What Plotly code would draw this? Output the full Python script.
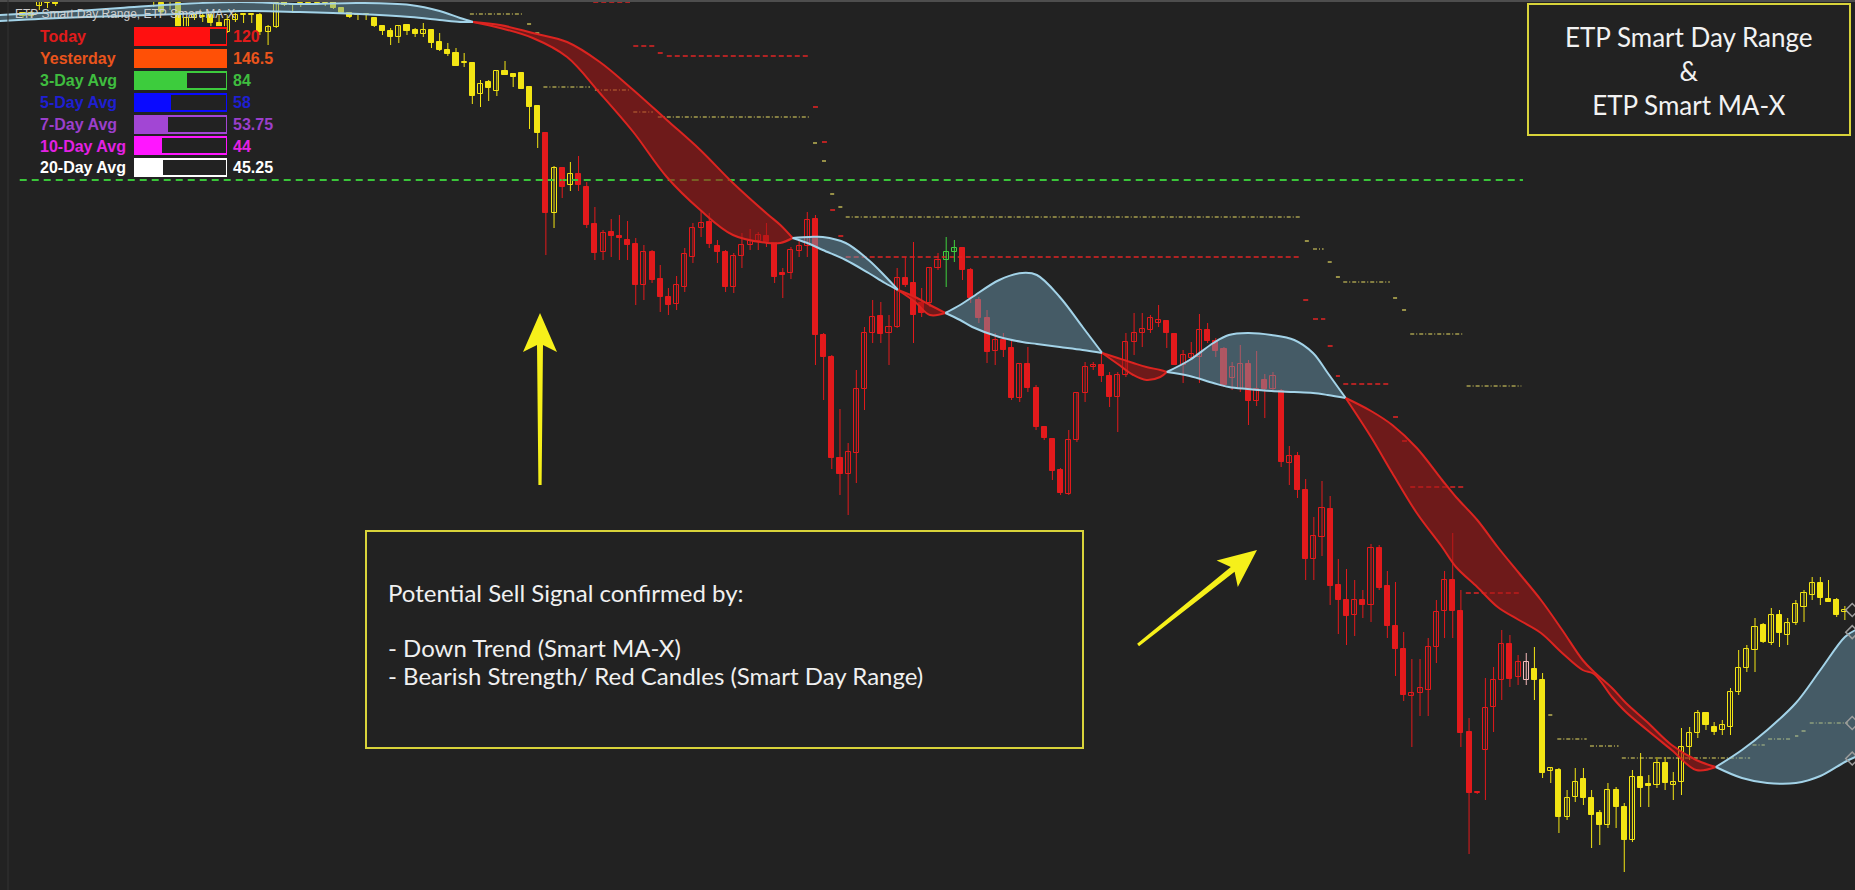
import plotly.graph_objects as go
import numpy as np

W, H = 1855, 890
BG = "#222222"

# ---------------- candle data (price units) ----------------
opens = [984, 987, 994, 997, 998, 999, None, None, None, None, None, None, None, None, None, None,
         998, 997, 1000, 997, 972, 982, 983, 985, 977, 968, 980, 985, 985, 985, 968, 973, 998, 995, 997, 997,
         997, 997, 998, 992, 987, 985, 985, 982, 974, 969, 963, 975, 970, 966, 970, 958, 950, 947, 937, 937,
         906, 918, 909, 929, 926, 927, 913, 894, 867, 787, 832, 815, 826, 813, 776, 748, 768, 764, 760, 756,
         715, 748, 721, 703, 696, 713, 743, 772, 778, 754, 748, 713, 744, 755, 759, 764, 757, 727, 727, 749,
         754, 781, 665, 643, 542, 526, 547, 611, 667, 684, 667, 673, 722, 717, 697, 697, 732, 740, 748, 752,
         730, 700, 682, 649, 660, 652, 602, 636, 612, 573, 561, 530, 506, 560, 607, 633, 635, 624, 603, 625,
         658, 667, 670, 677, 679, 666, 635, 642, 643, 670, 659, 651, 622, 611, 636, 599, 620, 611, 609, 537,
         544, 510, 441, 463, 491, 415, 400, 385, 400, 395, 452, 414, 374, 351, 304, 307, 310, 353, 389, 420,
         389, 268, 207, 250, 293, 320, 356, 323, 320, 331, 320, 229, 230, 183, 203, 221, 202, 187, 175, 210,
         193, 160, 223, 216, 215, 237, 215, 218, 253, 267, 287, 273, 270, 273, 308, 332, 350, 375, 357, 385,
         365, 377, 393, 405, 417, 401, 400, 388]
highs = [988, 989, 1003, 1005, 1000, 1008, None, None, None, None, None, None, None, None, None, None,
         1008, 1000, 1010, 1000, 983, 987, 987, 987, 985, 985, 987, 987, 985, 987, 975, 1000, 1000, 997, 998, 999,
         999, 998, 999, 993, 988, 987, 985, 983, 974, 972, 975, 976, 972, 977, 971, 967, 957, 952, 947, 938,
         920, 920, 930, 939, 927, 927, 914, 895, 867, 834, 832, 838, 844, 818, 793, 770, 781, 785, 779, 762,
         755, 750, 735, 712, 724, 752, 777, 790, 787, 760, 750, 747, 767, 771, 768, 777, 757, 732, 753, 760,
         788, 785, 667, 645, 591, 557, 630, 673, 700, 698, 685, 732, 743, 758, 712, 733, 747, 763, 760, 753,
         732, 703, 690, 667, 667, 660, 637, 653, 615, 573, 562, 532, 570, 608, 638, 638, 647, 628, 628, 667,
         687, 687, 685, 695, 680, 667, 650, 658, 686, 677, 662, 653, 638, 655, 640, 649, 626, 628, 611, 554,
         548, 521, 483, 519, 504, 441, 431, 420, 410, 456, 455, 429, 418, 368, 341, 341, 362, 400, 429, 467,
         410, 282, 208, 322, 333, 370, 365, 345, 347, 353, 327, 233, 232, 210, 232, 232, 210, 190, 217, 213,
         197, 230, 247, 225, 243, 243, 228, 272, 273, 290, 288, 278, 280, 312, 350, 355, 382, 377, 392, 390,
         382, 400, 410, 423, 423, 420, 402, 394]
lows = [982, 982, 990, 992, 994, 998, None, None, None, None, None, None, None, None, None, None,
        993, 986, 990, 972, 970, 980, 978, 973, 963, 967, 978, 977, 977, 965, 955, 972, 994, 987, 993, 995,
        995, 994, 991, 986, 982, 980, 980, 973, 965, 955, 957, 965, 963, 963, 952, 949, 944, 934, 933, 896,
        893, 899, 904, 925, 913, 911, 871, 852, 745, 772, 802, 809, 809, 772, 740, 740, 743, 740, 740, 695,
        700, 717, 688, 685, 690, 708, 737, 763, 752, 737, 708, 707, 732, 750, 750, 753, 717, 702, 721, 743,
        743, 635, 600, 531, 505, 485, 517, 590, 657, 657, 635, 672, 713, 657, 683, 693, 730, 713, 738, 720,
        697, 677, 637, 635, 643, 600, 598, 608, 570, 560, 520, 505, 505, 558, 598, 630, 618, 593, 568, 623,
        645, 653, 667, 673, 652, 635, 617, 640, 617, 657, 643, 613, 610, 608, 575, 594, 582, 608, 533, 515,
        502, 420, 420, 444, 395, 366, 355, 364, 382, 378, 410, 362, 324, 299, 253, 284, 284, 337, 362, 362,
        253, 146, 206, 200, 268, 300, 313, 315, 315, 300, 222, 217, 167, 180, 198, 195, 152, 155, 172, 172,
        128, 158, 193, 193, 212, 210, 200, 205, 240, 262, 270, 265, 265, 265, 305, 328, 328, 357, 355, 353,
        355, 375, 378, 400, 395, 398, 383, 380]
closes = [987, 984, 998, 1003, 996, 1005, None, None, None, None, None, None, None, None, None, None,
          1005, 988, 1008, 973, 982, 985, 983, 977, 967, 980, 985, 985, 985, 968, 973, 997, 995, 995, 997, 997,
          997, 997, 992, 987, 983, 985, 985, 974, 969, 963, 974, 969, 966, 970, 957, 950, 946, 934, 937, 904,
          916, 912, 929, 925, 923, 911, 893, 867, 787, 832, 813, 826, 815, 775, 747, 767, 764, 762, 755, 715,
          748, 720, 703, 695, 715, 746, 772, 777, 756, 748, 713, 744, 755, 759, 765, 758, 723, 725, 750, 754,
          780, 665, 643, 542, 526, 548, 611, 667, 683, 666, 673, 722, 715, 685, 687, 732, 740, 748, 752, 730,
          702, 682, 648, 660, 650, 602, 636, 612, 573, 562, 529, 507, 560, 607, 633, 635, 624, 603, 625, 658,
          667, 671, 682, 680, 667, 635, 645, 646, 670, 659, 649, 615, 633, 636, 599, 611, 611, 624, 538, 544,
          510, 441, 464, 492, 414, 400, 384, 400, 395, 452, 412, 374, 351, 305, 307, 312, 353, 388, 420, 389,
          267, 207, 208, 292, 320, 356, 321, 338, 338, 320, 227, 232, 183, 202, 218, 202, 185, 175, 210, 193,
          160, 223, 212, 214, 237, 217, 218, 253, 267, 287, 275, 268, 275, 308, 332, 351, 373, 358, 385, 367,
          377, 396, 407, 417, 402, 398, 385, 390]
# Smart Day Range colour state of each candle: Y = yellow, R = red, G = green, P = pink
strength = (["Y"] * 64 + ["R", "Y", "R", "Y"] + ["R"] * 45 + ["G", "G"] + ["R"] * 69
            + ["P"] + ["Y"] * 39)

# ---------------- Smart MA-X (fast / slow averages) ----------------
ma_bar = [-2.9, 4.5, 11.9, 19.2, 26.6, 33.9, 41.2, 47.4, 51.0, 53.5, 55.1,
          58.4, 62.4, 66.6, 70.6, 74.7, 78.8, 82.9, 86.9, 91.1, 92.7, 94.2,
          96.3, 97.9, 100.7, 103.5, 105.5, 107.1,
          109.2, 111.0, 112.9,
          114.7, 116.2, 119.5, 122.3, 124.1, 126.9, 129.7, 132.1,
          134.0, 135.9, 137.5, 139.2, 140.0,
          142.8, 145.7, 147.6, 149.9, 152.8, 155.6, 157.9, 159.7, 161.9,
          165.0, 167.6, 170.6, 173.7, 175.4, 178.0, 180.5, 183.1, 185.8, 188.4, 190.9, 192.3, 194.5,
          196.2, 198.8, 201.8, 204.8, 207.2,
          210.4, 213.5, 217.0, 220.0, 223.0, 224.3]
ma_fast = [985, 988, 992, 996, 998, 996, 997, 995, 989, 982, 978,
           972, 962, 943, 907, 868, 823, 790, 765, 757, 757, 762,
           763, 763, 757, 740, 724, 710,
           698, 685, 687,
           695, 703, 720, 727, 725, 703, 673, 647,
           636, 625, 620, 623, 628,
           640, 657, 665, 667, 665, 660, 647, 627, 602,
           563, 527, 487, 453, 433, 413, 393, 380, 367, 347, 330, 326, 303, 288, 270, 250, 230, 233,
           250, 270, 297, 330, 363, 370]
ma_slow = [979, 982, 984, 986, 989, 988, 986, 983, 980, 978, 978,
           975, 967, 958, 938, 910, 880, 850, 817, 786, 775, 762,
           756, 750, 740, 727, 717, 710,
           703, 695, 687,
           680, 673, 663, 658, 656, 653, 650, 647,
           642, 637, 633, 630, 628,
           624, 617, 613, 611, 609, 608, 607, 605, 602,
           589, 575, 552, 520, 503, 480, 453, 427, 400, 370, 340, 328, 312, 297, 278, 255, 240, 233,
           222, 217, 217, 224, 238, 243]

# ---------------- Smart Day Range levels ----------------
level_start = [54.7, 61.7, 62.7, 63.7, 70.0, 74.7, 77.7, 96.7, 97.8, 98.8, 99.8, 100.7, 156.9, 157.9,
               159.7, 160.7, 161.6, 167.7, 168.8, 169.8, 176.7, 186.7, 187.8, 191.8, 195.7, 211.7, 213.6,
               216.9, 217.7, 218.7,
               69.8, 74.7, 77.7, 78.8, 96.7, 97.8, 98.8, 99.8, 100.7, 156.7, 157.9, 159.7, 160.7, 161.6,
               167.7, 168.8, 169.8, 176.6,
               -0.4]
level_end = [61.2, 62.3, 63.3, 69.4, 74.3, 77.1, 96.3, 97.2, 98.4, 99.4, 100.4, 156.3, 157.4, 159.2,
             160.3, 161.2, 167.3, 168.3, 169.4, 176.3, 183.4, 187.3, 191.4, 195.3, 211.4, 213.2, 216.3,
             217.3, 218.4, 223.4,
             74.3, 77.4, 78.3, 96.3, 97.3, 98.4, 99.4, 100.4, 156.3, 157.4, 159.4, 160.3, 161.2, 167.3,
             168.3, 169.4, 176.3, 183.4,
             183.6]
level_price = [986, 976, 967, 913, 910, 888, 883, 857, 839, 806, 793, 783, 759, 751,
               738, 723, 718, 702, 690, 666, 614, 285, 261, 254, 242, 255, 261,
               264, 269, 277,
               998, 954, 947, 944, 893, 858, 790, 764, 743, 700, 681, 654, 624, 616,
               583, 559, 513, 407,
               820]
level_kind = ["support"] * 30 + ["resistance"] * 18 + ["average"]

# ---------------- day range table ----------------
range_labels = ["Today", "Yesterday", "3-Day Avg", "5-Day Avg", "7-Day Avg", "10-Day Avg", "20-Day Avg"]
range_values = [120, 146.5, 84, 58, 53.75, 44, 45.25]
range_bar_colors = ["#ff1010", "#ff5006", "#3dcc3d", "#0a0aff", "#a246d4", "#ff16ff", "#ffffff"]
range_text_colors = ["#e01b1b", "#ea541c", "#3fbd3f", "#1f1fd2", "#9b3fcb", "#e321e3", "#ffffff"]

# ---------------- text boxes ----------------
title_lines = ["ETP Smart Day Range", "&", "ETP Smart MA-X"]
note_lines = ["Potential Sell Signal confirmed by:", "- Down Trend (Smart MA-X)",
              "- Bearish Strength/ Red Candles (Smart Day Range)"]

fig = go.Figure()

# ---- levels ----
level_style = {"support": ("#e6da62", "4px,2px,1px,2px", 1.2),
               "resistance": ("#e02424", "5px,3px", 1.6),
               "average": ("#3ac53a", "7px,5px", 2)}
for kind, (col, dash, wdt) in level_style.items():
    xs, ys = [], []
    for s, e, p, k in zip(level_start, level_end, level_price, level_kind):
        if k == kind:
            xs += [s, e, None]
            ys += [p, p, None]
    fig.add_trace(go.Scatter(x=xs, y=ys, mode="lines", hoverinfo="skip", showlegend=False,
                             line=dict(color=col, dash=dash, width=wdt)))

# ---- candles ----
COL = {"Y": "#f3e514", "R": "#e31a1c", "G": "#3fd13f", "P": "#f4b8b8"}
idx = list(range(len(opens)))
for key, col in COL.items():
    wx, wy = [], []
    for i in idx:
        if strength[i] != key or opens[i] is None:
            continue
        wx += [i, i, None]
        wy += [lows[i], highs[i], None]
    fig.add_trace(go.Scatter(x=wx, y=wy, mode="lines", hoverinfo="skip", showlegend=False,
                             line=dict(color=col, width=1)))
for key, col in COL.items():
    for up in (True, False):
        xs, base, hgt = [], [], []
        for i in idx:
            o, c = opens[i], closes[i]
            if strength[i] != key or o is None or (c >= o) != up:
                continue
            xs.append(i)
            base.append(min(o, c))
            hgt.append(max(abs(c - o), 1.2))
        if not xs:
            continue
        fig.add_trace(go.Bar(x=xs, y=hgt, base=base, width=0.62, hoverinfo="skip", showlegend=False,
                             marker=dict(color=BG if up else col, line=dict(color=col, width=1))))

# ---- MA-X band ----
cross = [k for k in range(len(ma_bar)) if ma_fast[k] == ma_slow[k]]
segments, prev = [], 0
for k in cross + [len(ma_bar) - 1]:
    if k > prev:
        segments.append((prev, k))
    prev = k
for a, b in segments:
    up = ma_fast[a + 1] > ma_slow[a + 1]
    lc = "#a3d3e8" if up else "#dc2420"
    fc = "rgba(112,160,184,0.46)" if up else "rgba(165,20,20,0.58)"
    xs = ma_bar[a:b + 1]
    fig.add_trace(go.Scatter(x=xs, y=ma_slow[a:b + 1], mode="lines", hoverinfo="skip", showlegend=False,
                             line=dict(color=lc, width=2, shape="spline")))
    fig.add_trace(go.Scatter(x=xs, y=ma_fast[a:b + 1], mode="lines", hoverinfo="skip", showlegend=False,
                             fill="tonexty", fillcolor=fc, line=dict(color=lc, width=2, shape="spline")))

# ---- last-value markers at the right edge ----
edge = 223.9
last_vals = [closes[-1], float(np.interp(edge, ma_bar, ma_fast)), level_price[29],
             float(np.interp(edge, ma_bar, ma_slow))]
fig.add_trace(go.Scatter(x=[edge] * 4, y=last_vals, mode="markers", hoverinfo="skip", showlegend=False,
                         marker=dict(symbol="diamond-open", size=10, color="#9c9c9c", line=dict(width=1.5))))

# ---- day range table (bars) ----
rows = list(range(len(range_labels)))
vmax = max(range_values)
fig.add_trace(go.Bar(x=[vmax] * len(rows), y=rows, orientation="h", width=0.78, xaxis="x2", yaxis="y2",
                     hoverinfo="skip", showlegend=False,
                     marker=dict(color=BG, line=dict(color=range_bar_colors, width=2))))
fig.add_trace(go.Bar(x=range_values, y=rows, orientation="h", width=0.78, xaxis="x2", yaxis="y2",
                     hoverinfo="skip", showlegend=False,
                     marker=dict(color=range_bar_colors, line=dict(width=0))))

annotations = []
for r, lab, val, tc in zip(rows, range_labels, range_values, range_text_colors):
    annotations.append(dict(xref="paper", yref="y2", x=38 / W, y=r, text=f"<b>{lab}</b>", showarrow=False,
                            xanchor="left", yanchor="middle",
                            font=dict(family="Liberation Sans, Arial", size=16, color=tc)))
    annotations.append(dict(xref="x2", yref="y2", x=vmax, y=r, xshift=4, text=f"<b>{val:g}</b>",
                            showarrow=False, xanchor="left", yanchor="middle",
                            font=dict(family="Liberation Sans, Arial", size=16, color=tc)))


def px(x):
    return x / W


def py(y):
    return 1 - y / H


annotations.append(dict(xref="paper", yref="paper", x=px(13), y=py(14), text="ETP Smart Day Range, ETP Smart MA-X",
                        showarrow=False, xanchor="left", yanchor="middle",
                        font=dict(family="Liberation Sans, Arial", size=12, color="#cfcfcf")))
annotations.append(dict(xref="paper", yref="paper", x=px(1689), y=py(71), text="<br>".join(title_lines),
                        showarrow=False, xanchor="center", yanchor="middle", align="center",
                        font=dict(family="Lato, Open Sans", size=26, color="#f2f2f2")))
for line, yy in zip(note_lines, [592, 647, 675]):
    annotations.append(dict(xref="paper", yref="paper", x=px(386), y=py(yy), text=line, showarrow=False,
                            xanchor="left", yanchor="middle",
                            font=dict(family="Lato, Open Sans", size=24, color="#f0f0f0")))


def ppath(pts):
    return "M " + " L ".join(f"{px(x):.5f},{py(y):.5f}" for x, y in pts) + " Z"


ARROW = "#f6f01a"
shapes = [
    dict(type="rect", xref="paper", yref="paper", x0=px(1528), x1=px(1850), y0=py(135), y1=py(4),
         line=dict(color="#d8d33a", width=2), fillcolor="rgba(0,0,0,0)"),
    dict(type="rect", xref="paper", yref="paper", x0=px(366), x1=px(1083), y0=py(748), y1=py(531),
         line=dict(color="#d8d33a", width=2), fillcolor="rgba(0,0,0,0)"),
    dict(type="path", xref="paper", yref="paper", line=dict(width=0), fillcolor=ARROW,
         path=ppath([(540, 313), (557, 352), (543, 345), (541.6, 485), (538.4, 485), (537, 345), (523, 352)])),
    dict(type="path", xref="paper", yref="paper", line=dict(width=0), fillcolor=ARROW,
         path=ppath([(1257, 550), (1237.8, 587.1), (1234.6, 571.8), (1139.0, 646.2), (1137.1, 643.8),
                     (1230.8, 567.0), (1216.6, 560.5)])),
    dict(type="line", xref="paper", yref="paper", x0=0, x1=1, y0=py(1), y1=py(1),
         line=dict(color="#4e4e4e", width=2)),
    dict(type="line", xref="paper", yref="paper", x0=px(8), x1=px(8), y0=0, y1=1,
         line=dict(color="#333333", width=1)),
]

fig.update_layout(
    width=W, height=H, autosize=False,
    margin=dict(l=0, r=0, t=0, b=0),
    paper_bgcolor=BG, plot_bgcolor=BG,
    barmode="overlay", bargap=0,
    showlegend=False,
    xaxis=dict(range=[-2.815, 224.24], visible=False, fixedrange=True),
    yaxis=dict(range=[110, 1000], visible=False, fixedrange=True),
    xaxis2=dict(domain=[134 / W, 227 / W], range=[0, vmax], anchor="y2", visible=False),
    yaxis2=dict(domain=[py(178.7), py(26.1)], range=[6.5, -0.5], anchor="x2", visible=False),
    annotations=annotations,
    shapes=shapes,
)

fig.write_html("out.html", config={"displayModeBar": False})
